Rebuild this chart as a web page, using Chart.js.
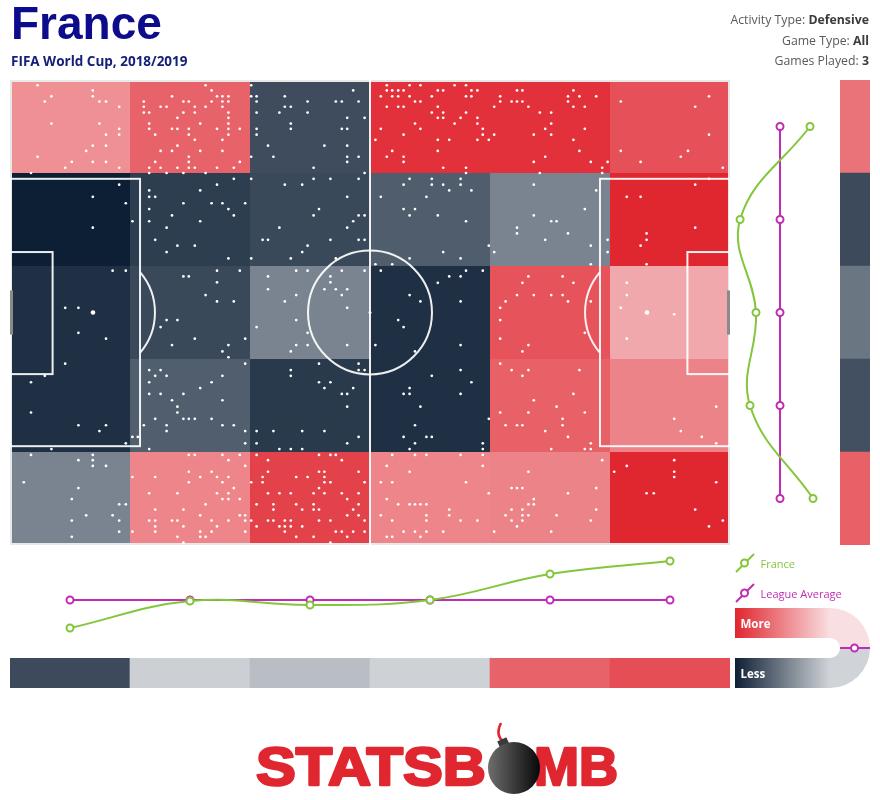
<!DOCTYPE html>
<html><head><meta charset="utf-8">
<script src="https://cdn.jsdelivr.net/npm/chart.js@4.4.0/dist/chart.umd.min.js"></script>
<style>
html,body{margin:0;padding:0;background:#fff;}
body{width:880px;height:800px;position:relative;overflow:hidden;}
canvas{position:absolute;display:block;}
svg{position:absolute;left:0;top:0;}
</style></head>
<body>
<canvas id="pitch" width="720" height="465" style="left:10px;top:80px"></canvas>
<canvas id="rowProfile" width="110" height="465" style="left:730px;top:80px"></canvas>
<canvas id="rowStripC" width="30" height="465" style="left:840px;top:80px"></canvas>
<canvas id="colProfile" width="720" height="110" style="left:10px;top:545px"></canvas>
<canvas id="colStripC" width="720" height="30" style="left:10px;top:658px"></canvas>
<svg width="880" height="800" xmlns="http://www.w3.org/2000/svg">
  <defs>
    <linearGradient id="gMore" gradientUnits="userSpaceOnUse" x1="735" y1="0" x2="830" y2="0">
      <stop offset="0" stop-color="#e0262f"/><stop offset="1" stop-color="#f8dfe1"/>
    </linearGradient>
    <linearGradient id="gLess" gradientUnits="userSpaceOnUse" x1="735" y1="0" x2="830" y2="0">
      <stop offset="0" stop-color="#0f2035"/><stop offset="1" stop-color="#d0d4d8"/>
    </linearGradient>
    <linearGradient id="gBomb" x1="0" y1="0" x2="1" y2="0">
      <stop offset="0" stop-color="#6e6e6e"/><stop offset="1" stop-color="#080808"/>
    </linearGradient>
  </defs>
  <text x="11" y="39" font-family="Liberation Sans, Arial, sans-serif" font-weight="bold" font-size="46" fill="#0c0c8c">France</text>
  <text x="11" y="65.5" font-family="Open Sans, sans-serif" font-weight="bold" font-size="13.5" fill="#14207a">FIFA World Cup, 2018/2019</text>
  <g font-family="Open Sans, sans-serif" font-size="12.3" text-anchor="end" fill="#5a5a5a">
    <text x="869" y="24">Activity Type: <tspan font-weight="bold" fill="#3c3c3c">Defensive</tspan></text>
    <text x="869" y="44.5">Game Type: <tspan font-weight="bold" fill="#3c3c3c">All</tspan></text>
    <text x="869" y="64.5">Games Played: <tspan font-weight="bold" fill="#3c3c3c">3</tspan></text>
  </g>
  <!-- legend -->
  <line x1="736" y1="572" x2="754" y2="554" stroke="#83c63c" stroke-width="2"/>
  <circle cx="744.5" cy="563" r="3.5" fill="#fff" stroke="#83c63c" stroke-width="2"/>
  <text x="760.5" y="568" font-family="Open Sans, sans-serif" font-size="11" fill="#83c63c">France</text>
  <line x1="736" y1="602" x2="754" y2="584" stroke="#c02db4" stroke-width="2"/>
  <circle cx="744.5" cy="593" r="3.5" fill="#fff" stroke="#c02db4" stroke-width="2"/>
  <text x="760.5" y="598" font-family="Open Sans, sans-serif" font-size="11" fill="#c02db4">League Average</text>
  <path d="M735,608 H830 A40,40 0 0 1 870,648 H840 A10,10 0 0 0 830,638 H735 Z" fill="url(#gMore)"/>
  <path d="M735,688 H830 A40,40 0 0 0 870,648 H840 A10,10 0 0 1 830,658 H735 Z" fill="url(#gLess)"/>
  <line x1="840" y1="648" x2="870" y2="648" stroke="#c02db4" stroke-width="2"/>
  <circle cx="854.5" cy="648" r="3.5" fill="#fff" stroke="#c02db4" stroke-width="2"/>
  <text x="740.5" y="628" font-family="Open Sans, sans-serif" font-weight="bold" font-size="11.5" fill="#fff">More</text>
  <text x="740.5" y="678" font-family="Open Sans, sans-serif" font-weight="bold" font-size="11.5" fill="#fff">Less</text>
  <!-- logo -->
  <g font-family="Liberation Sans, Arial, sans-serif" font-weight="bold" font-size="54" fill="#e0262f" stroke="#e0262f" stroke-width="2.5" stroke-linejoin="round">
    <text x="256" y="785" textLength="230" lengthAdjust="spacingAndGlyphs">STATSB</text>
    <text x="534" y="785" textLength="84" lengthAdjust="spacingAndGlyphs">MB</text>
  </g>
  <path d="M503,742 Q495,734 501,723" fill="none" stroke="#e0262f" stroke-width="2.5"/>
  <rect x="498" y="739" width="10" height="7" fill="#3a3a3a" transform="rotate(-25 503 742)"/>
  <circle cx="514" cy="768" r="26" fill="url(#gBomb)"/>
</svg>
<script>
// ---- data ----
const rowLabels = ['Top flank','Upper channel','Centre','Lower channel','Bottom flank'];
const columnLabels = ['0-20','20-40','40-60','60-80','80-100','100-120'];
// relative defensive activity per zone (+ more than league, - less), rows top to bottom
const zoneValues = [
  [ 0.44, 0.68,-0.75, 0.94, 0.94, 0.77],
  [-1.00,-0.83,-0.77,-0.66,-0.44, 1.00],
  [-0.91,-0.77,-0.44,-0.91, 0.76, 0.31],
  [-0.91,-0.65,-0.85,-0.91, 0.69, 0.51],
  [-0.44, 0.50, 0.85, 0.50, 0.51, 1.00]
];
const franceByColumn = [21.3, 39.3, 36.7, 40.0, 57.3, 66.0];
const leagueByColumn = [40, 40, 40, 40, 40, 40];
const columnStrip = [-0.76, -0.02, -0.12, -0.01, 0.68, 0.79];
const franceByRow = [30.0, 6.7, 12.0, 10.0, 31.0];
const leagueByRow = [20, 20, 20, 20, 20];
const rowStrip = [0.59, -0.76, -0.52, -0.73, 0.69];
// defensive actions, pitch coordinates (x 0-120, y 0-80)
const actions = [
[4.6,0.9],[13.8,1.8],[6.9,2.8],[13.8,2.8],[5.8,3.7],[14.9,3.7],[16,3.7],[18.2,4.6],[6.9,7.5],[14.9,7.5],[18.2,8.4],[16,9.4],[18.2,9.4],[13.8,11.3],[16,11.3],[12.7,12.2],[4.6,13.2],[10.3,14.1],[13.8,14.1],[16,14.1],[9.2,15.1],[18.2,15.1],[3.5,16],
[32.6,0.9],[33.6,1.8],[27,2.8],[34.5,2.8],[35.4,2.8],[36.4,2.8],[22.3,3.7],[28.9,3.7],[29.8,3.7],[33.6,3.7],[35.4,3.7],[36.4,3.7],[22.3,4.6],[25.1,4.6],[26.1,4.6],[30.8,4.6],[32.6,4.6],[35.4,4.6],[22.3,5.6],[23.2,5.6],[28.9,5.6],[30.8,5.6],[36.4,5.6],[27.9,6.5],[36.4,6.5],[23.2,7.5],[31.7,7.5],[36.4,7.5],[23.2,8.4],[27,8.4],[27.9,8.4],[29.8,8.4],[34.5,8.4],[36.4,8.4],[38.3,8.4],[24.2,9.4],[29.8,9.4],[36.4,9.4],[30.8,10.3],[35.4,10.3],[27.9,11.3],[25.1,12.2],[27,12.2],[31.7,12.2],[35.4,12.2],[29.8,13.2],[24.2,14.1],[29.8,14.1],[38.3,14.1],[23.2,15.1],[25.1,15.1],[27.9,15.1],[29.8,15.1],[30.8,15.1],[34.5,15.1],[37.3,15.1],[23.2,16],[26.1,16],[28.9,16],[32.6,16],
[40.2,0.9],[57.2,1.8],[40.2,2.8],[41.1,2.8],[45.8,2.8],[41.1,3.7],[49.6,3.7],[54.3,3.7],[55.3,3.7],[58.1,3.7],[45.8,4.6],[46.8,4.6],[41.1,5.6],[44.9,5.6],[49.6,5.6],[56.2,6.5],[59.1,6.5],[46.8,7.5],[41.1,8.4],[46.8,8.4],[55.3,8.4],[56.2,8.4],[41.1,9.4],[43,11.3],[52.4,11.3],[56.2,11.3],[40.2,13.2],[43.9,13.2],[56.2,13.2],[58.1,13.2],[56.2,14.1],[50.6,15.1],[59.1,16],
[18.2,18],[13.8,20.1],[19.3,21.2],[13.8,25.4],
[37.3,17],[34.5,18],[23.2,19],[31.7,19],[23.2,20.1],[24.2,20.1],[28.9,21.2],[33.6,21.2],[35.4,21.2],[39.2,21.2],[23.2,22.2],[36.4,22.2],[27,23.3],[37.3,23.3],[20.4,24.3],[23.2,24.3],[31.7,24.3],[26.1,25.4],[24.2,27.5],[27.9,28.5],[30.8,28.5],[26.1,29.6],[36.4,30.7],
[40.2,17],[50.6,17],[53.4,17],[58.1,17],[45.8,18],[48.7,18],[56.2,20.1],[51.5,22.2],[50.6,23.3],[58.1,23.3],[59.1,23.3],[57.2,24.3],[44.9,25.4],[56.2,25.4],[42.1,27.5],[43,27.5],[53.4,27.5],[58.1,27.5],[59.1,27.5],[49.6,28.5],[48.7,29.6],[40.2,30.7],[46.8,30.7],[54.3,30.7],
[17.1,32.8],[19.3,32.8],[9.2,39.2],[11.4,39.2],
[34.5,32.8],[38.3,32.8],[28.9,33.8],[29.8,33.8],[34.5,34.8],[32.6,37],[34.5,38.1],[37.3,38.1],
[47.7,32.8],[49.6,32.8],[55.3,32.8],[59.1,32.8],[43,33.8],[53.4,33.8],[43,36],[52.4,36],[54.3,36],[56.2,36],[53.4,34.8],[47.7,37],[55.3,37],[45.8,38.1],[56.2,39.2],
[11.4,43.5],[16,44.5],
[9.2,48.8],[5.8,50.9],[3.5,52],[3.5,57.2],[11.4,59.4],[16,59.4],[14.9,60.4],[19.3,62.5],[6.9,63.5],
[26.1,41.3],[27.9,41.3],[25.1,42.5],[30.8,44.5],[39.2,44.5],[27,45.6],[36.4,45.6],[35.4,46.7],[36.4,47.7],
[39.2,48.8],[23.2,49.9],[25.1,49.9],[24.2,50.9],[26.1,50.9],[35.4,50.9],[23.2,52],[33.6,52],[31.7,53],[23.2,54],[25.1,54],[28.9,54],[27,55.1],[35.4,55.1],[27.9,56.2],[27.9,57.2],[24.2,58.3],[28.9,58.3],[29.8,58.3],[30.8,58.3],[33.6,58.3],[22.3,59.4],[26.1,59.4],[35.4,59.4],[37.3,59.4],[26.1,60.4],[39.2,60.4],[20.4,61.4],[21.3,61.4],[39.2,62.5],[23.2,63.5],
[47.7,41.3],[41.1,42.5],[49.6,43.5],[47.7,45.6],[49.6,45.6],[56.2,45.6],[46.8,46.7],
[51.5,48.8],[58.1,48.8],[46.8,49.9],[58.1,49.9],[59.1,49.9],[46.8,50.9],[51.5,52],[53.4,52],[52.4,53],[57.2,53],[55.3,54],[56.2,54],[56.2,56.2],[41.1,60.4],[43.9,60.4],[48.7,60.4],[52.4,60.4],[58.1,61.4],[41.1,62.5],[56.2,62.5],[44.9,63.5],[46.8,63.5],[48.7,63.5],
[3.5,64.5],[11.4,65.4],[13.8,64.5],[13.8,65.4],[13.8,66.4],[16,66.4],[2.3,69.2],[11.4,70.2],[10.3,72.1],[18.2,73],[19.3,73],[12.7,74.9],[17.1,74.9],[10.3,75.8],[18.2,75.8],[18.2,77.7],[10.3,78.6],
[29.8,64.5],[30.8,64.5],[35.4,64.5],[38.3,64.5],[36.4,65.4],[39.2,66.4],[29.8,67.4],[33.6,67.4],[20.4,68.3],[24.2,68.3],[31.7,68.3],[34.5,68.3],[36.4,68.3],[29.8,69.2],[35.4,69.2],[37.3,70.2],[23.2,71.1],[27.9,71.1],[34.5,71.1],[36.4,71.1],[35.4,72.1],[36.4,72.1],[38.3,72.1],[32.6,73],[24.2,73.9],[28.9,73.9],[31.7,74.9],[38.3,74.9],[39.2,74.9],[23.2,75.8],[24.2,75.8],[27,75.8],[27.9,75.8],[33.6,75.8],[36.4,75.8],[39.2,75.8],[24.2,76.8],[28.9,76.8],[34.5,76.8],[20.4,77.7],[24.2,77.7],[31.7,77.7],[33.6,77.7],[39.2,77.7],[27.9,78.6],[31.7,78.6],[32.6,78.6],[28.9,79.6],
[41.1,64.5],[51.5,64.5],[53.4,64.5],[54.3,64.5],[43,65.4],[55.3,65.4],[43,67.4],[51.5,67.4],[52.4,67.4],[58.1,67.4],[42.1,68.3],[47.7,68.3],[49.6,68.3],[52.4,68.3],[40.2,69.2],[42.1,69.2],[52.4,69.2],[53.4,69.2],[59.1,69.2],[51.5,70.2],[43,71.1],[44.9,71.1],[46.8,71.1],[50.6,71.1],[52.4,71.1],[55.3,71.1],[58.1,71.1],[56.2,72.1],[41.1,73],[43.9,73],[47.7,73],[50.6,73],[58.1,73],[43.9,73.9],[48.7,73.9],[50.6,73.9],[51.5,73.9],[57.2,73.9],[56.2,74.9],[58.1,74.9],[40.2,75.8],[43,75.8],[43.9,75.8],[45.8,75.8],[46.8,75.8],[51.5,75.8],[53.4,75.8],[59.1,75.8],[41.1,76.8],[44.9,76.8],[45.8,76.8],[46.8,76.8],[48.7,76.8],[45.8,77.7],[54.3,77.7],[55.3,77.7],[57.2,77.7],[59.1,77.7],[47.7,78.6],[50.6,78.6],[56.2,78.6],[53.4,79.6],
[62.8,0.9],[66.6,0.9],[68.4,0.9],[74.1,0.9],[76,0.9],[62.8,1.8],[63.7,1.8],[64.7,1.8],[65.6,1.8],[71.3,1.8],[72.2,1.8],[76.9,1.8],[77.9,1.8],[61.8,2.8],[63.7,2.8],[64.7,2.8],[66.6,2.8],[70.3,2.8],[76,2.8],[76.9,2.8],[67.5,3.7],[68.4,3.7],[62.8,4.6],[64.7,4.6],[65.6,4.6],[71.3,4.6],[70.3,5.6],[72.2,5.6],[76,5.6],[71.3,6.5],[72.2,6.5],[75.1,6.5],[77.9,6.5],[67.5,7.5],[74.1,7.5],[77.9,7.5],[61.8,8.4],[68.4,8.4],[78.8,8.4],[65.6,9.4],[78.8,9.4],[60.9,10.3],[71.3,10.3],[73.2,10.3],[77.9,10.3],[79.8,10.3],[63.7,12.2],[71.3,12.2],[62.8,13.2],[65.6,13.2],[65.6,14.1],[72.2,15.1],[76,15.1],[76,16],
[93.9,1.8],[84.5,1.8],[85.4,1.8],[81.7,2.8],[93,2.8],[94.9,2.8],[97.7,2.8],[81.7,3.7],[83.6,3.7],[84.5,3.7],[85.4,3.7],[93,3.7],[80.7,4.6],[86.4,4.6],[93.9,4.6],[95.8,4.6],[88.3,5.6],[90.2,5.6],[90.2,7.5],[89.2,8.4],[95.8,8.4],[80.7,9.4],[87.3,9.4],[90.2,9.4],[93.9,10.3],[94.9,12.2],[89.2,13.2],[87.3,14.1],[96.8,14.1],[99.6,14.1],[98.7,15.1],[88.3,16],[98.7,16],
[116.5,2.8],[101.8,3.7],[114.2,4.6],[116.5,9.4],[101.8,12.2],[113,12.2],[111.8,13.2],[105.1,14.1],[118.8,15.1],
[66.6,17],[70.3,17],[75.1,17],[65.6,18],[70.3,18],[72.2,18],[75.1,18],[73.2,19],[76.9,19],[61.8,20.1],[69.4,20.1],[65.6,22.2],[67.5,22.2],[66.6,23.3],[71.3,23.3],[76,24.3],[79.8,28.5],[72.2,29.6],[66.6,30.7],[75.1,30.7],[60.9,31.7],[63.7,31.7],
[87.3,18],[97.7,19],[95.8,22.2],[87.3,23.3],[90.2,24.3],[91.1,24.3],[84.5,25.4],[84.5,26.4],[93,26.4],[89.2,27.5],[96.8,28.5],[99.6,27.5],[80.7,29.6],[99.6,29.6],[96.8,31.7],
[116.5,17],[114.2,18],[102.8,20.1],[105.1,20.1],[114.2,25.4],[106.1,26.4],[106.1,27.5],[105.1,28.5],[106.1,31.7],
[61.8,32.8],[76,32.8],[78.8,32.8],[73.2,33.8],[75.1,33.8],[71.3,34.9],[66.6,37],[68.4,38.1],[75.1,38.1],
[86.4,33.8],[92.1,33.8],[85.4,34.9],[93.9,34.9],[84.5,37],[87.3,37],[90.2,37],[92.1,37],[82.6,38.1],[93,38.1],[96.8,38.1],[81.7,39.2],
[102.8,34.9],[102.8,37],[101.8,39.2],
[64.7,41.3],[65.6,42.5],[60.9,45.6],[75.1,45.6],[67.5,46.7],
[81.7,41.3],[81.7,44.5],[86.4,45.6],[85.4,46.7],[95.8,43.5],
[110.7,40.3],[102.8,44.5],
[75.1,49.9],[70.3,50.9],[76.9,52],[66.6,53],[65.6,54],[66.6,54],[75.1,54],[68.4,56.2],[79.8,58.3],[67.5,59.4],[65.6,61.4],[69.4,61.4],[70.3,61.4],[67.5,62.5],[78.8,62.5],[66.6,63.5],[78.8,63.5],
[81.7,48.8],[83.6,49.9],[86.4,49.9],[94.9,49.9],[85.4,50.9],[93.9,54],[87.3,55.1],[91.1,56.2],[81.7,57.2],[86.4,57.2],[95.8,57.2],[92.1,58.3],[82.6,59.4],[84.5,59.4],[85.4,59.4],[92.1,59.4],[89.2,60.4],[93,61.4],[96.8,62.5],[90.2,63.5],[95.8,63.5],[96.8,63.5],
[117.7,56.2],[110.7,58.3],[111.8,60.4],[115.3,61.4],[117.7,62.5],
[63.7,64.5],[67.5,64.5],[69.4,64.5],[75.1,64.5],[78.8,64.5],[62.8,66.4],[78.8,66.4],[66.6,67.4],[61.8,69.2],[63.7,69.2],[76,69.2],[79.8,71.1],[62.8,72.1],[64.7,73],[66.6,73],[67.5,73],[68.4,73],[69.4,73],[73.2,73.9],[61.8,74.9],[69.4,74.9],[73.2,74.9],[63.7,75.8],[69.4,75.8],[75.1,75.8],[77.9,75.8],[65.6,77.7],[67.5,77.7],[69.4,77.7],[72.2,77.7],[62.8,78.6],[63.7,78.6],[68.4,78.6],
[98.7,65.4],[86.4,67.4],[83.6,70.2],[84.5,70.2],[85.4,70.2],[97.7,70.2],[93,71.1],[87.3,72.1],[86.4,73],[87.3,73],[83.6,73.9],[85.4,73.9],[97.7,73.9],[82.6,74.9],[85.4,74.9],[86.4,74.9],[91.1,74.9],[83.6,75.8],[85.4,75.8],[96.8,75.8],[84.5,76.8],[80.7,77.7],[90.2,77.7],
[110.7,65.4],[102.8,66.4],[100.7,67.4],[110.7,67.4],[110.7,68.3],[117.7,69.2],[106.1,71.1],[107.3,71.1],[114.2,73.9],[118.8,75.8],[116.5,76.8]
];

// ---- styling helpers ----
const GREEN = '#83c63c', MAGENTA = '#c02db4';
function heatColor(v){
  const a = v >= 0 ? [249,227,228] : [208,212,216];
  const b = v >= 0 ? [224,38,47] : [13,31,53];
  const t = Math.min(1, Math.abs(v));
  return 'rgb(' + a.map((c,i)=>Math.round(c + (b[i]-c)*t)).join(',') + ')';
}
const base = () => ({
  responsive:false, animation:false, devicePixelRatio:1, events:[],
  layout:{padding:0, autoPadding:false},
  plugins:{legend:{display:false}, tooltip:{enabled:false}}
});

// ---- pitch heatmap ----
const nRows = zoneValues.length, nCols = zoneValues[0].length;
const pitchPlugin = {
  id:'pitchDraw',
  beforeDatasetsDraw(chart){
    const {ctx, scales:{x, y}} = chart;
    const px = v => x.getPixelForValue(v), py = v => y.getPixelForValue(v);
    const cw = 120 / nCols, rh = 80 / nRows;
    for (let r = 0; r < nRows; r++) for (let c = 0; c < nCols; c++) {
      const x0 = Math.round(px(c*cw)), x1 = Math.round(px((c+1)*cw));
      const y0 = Math.round(py(r*rh)), y1 = Math.round(py((r+1)*rh));
      ctx.fillStyle = heatColor(zoneValues[r][c]);
      ctx.fillRect(x0, y0, x1-x0, y1-y0);
    }
    ctx.save();
    ctx.lineWidth = 2;
    const rect = (a,b,c,d) => { ctx.strokeRect(px(a), py(b), px(c)-px(a), py(d)-py(b)); };
    ctx.strokeStyle = '#e8e8e8';
    ctx.strokeRect(1, 1, chart.width-2, chart.height-2);
    ctx.strokeStyle = 'rgba(255,255,255,0.92)';
    ctx.beginPath(); ctx.moveTo(px(60), py(0)); ctx.lineTo(px(60), py(80)); ctx.stroke();
    rect(0, 17, 21.67, 63); rect(0, 29.6, 7.1, 50.6);
    rect(98.33, 17, 120, 63); rect(112.9, 29.6, 120, 50.6);
    const rad = px(10.33) - px(0);
    ctx.beginPath(); ctx.arc(px(60), py(40), rad, 0, Math.PI*2); ctx.stroke();
    const spotL = 13.83, spotR = 106.17;
    const dx = px(21.67) - px(spotL);
    const ang = Math.acos(dx / rad);
    ctx.beginPath(); ctx.arc(px(spotL), py(40), rad, -ang, ang); ctx.stroke();
    ctx.beginPath(); ctx.arc(px(spotR), py(40), rad, Math.PI-ang, Math.PI+ang); ctx.stroke();
    ctx.fillStyle = '#fff';
    [[spotL,2.3],[spotR,2.3],[60,1.5]].forEach(([s,r])=>{ctx.beginPath(); ctx.arc(px(s), py(40), r, 0, Math.PI*2); ctx.fill();});
    ctx.fillStyle = '#8a8a8a';
    ctx.fillRect(px(0), py(36.2), 3, py(43.8)-py(36.2));
    ctx.fillRect(px(120)-3, py(36.2), 3, py(43.8)-py(36.2));
    ctx.restore();
  }
};
new Chart(document.getElementById('pitch'), {
  type:'scatter',
  data:{datasets:[{data: actions.map(([x,y])=>({x,y})), pointRadius:1.35, pointBackgroundColor:'#ffffff', pointBorderWidth:0, clip:false}]},
  options:Object.assign(base(), {
    scales:{x:{type:'linear', min:0, max:120, display:false}, y:{type:'linear', min:0, max:80, reverse:true, display:false}}
  }),
  plugins:[pitchPlugin]
});

// ---- row profile (right) ----
const lineDs = (label, data, color) => ({
  label, data, borderColor:color, borderWidth:2, tension:0.4,
  pointRadius:3.5, pointBorderWidth:2, pointBorderColor:color, pointBackgroundColor:'#fff', clip:false
});
new Chart(document.getElementById('rowProfile'), {
  type:'line',
  data:{labels:rowLabels, datasets:[lineDs('France', franceByRow, GREEN), lineDs('League Average', leagueByRow, MAGENTA)]},
  options:Object.assign(base(), {
    indexAxis:'y',
    scales:{x:{type:'linear', min:3.333, max:40, display:false}, y:{type:'category', offset:true, display:false}}
  })
});
new Chart(document.getElementById('rowStripC'), {
  type:'bar',
  data:{labels:rowLabels, datasets:[{data:rowStrip.map(()=>1), backgroundColor:rowStrip.map(heatColor), barPercentage:1, categoryPercentage:1, borderWidth:0}]},
  options:Object.assign(base(), {indexAxis:'y', scales:{x:{min:0, max:1, display:false}, y:{display:false}}})
});

// ---- column profile (bottom) ----
new Chart(document.getElementById('colProfile'), {
  type:'line',
  data:{labels:columnLabels, datasets:[lineDs('France', franceByColumn, GREEN), lineDs('League Average', leagueByColumn, MAGENTA)]},
  options:Object.assign(base(), {
    scales:{x:{type:'category', offset:true, display:false}, y:{type:'linear', min:3.333, max:76.667, display:false}}
  })
});
new Chart(document.getElementById('colStripC'), {
  type:'bar',
  data:{labels:columnLabels, datasets:[{data:columnStrip.map(()=>1), backgroundColor:columnStrip.map(heatColor), barPercentage:1, categoryPercentage:1, borderWidth:0}]},
  options:Object.assign(base(), {scales:{x:{display:false}, y:{min:0, max:1, display:false}}})
});
</script>
</body></html>
